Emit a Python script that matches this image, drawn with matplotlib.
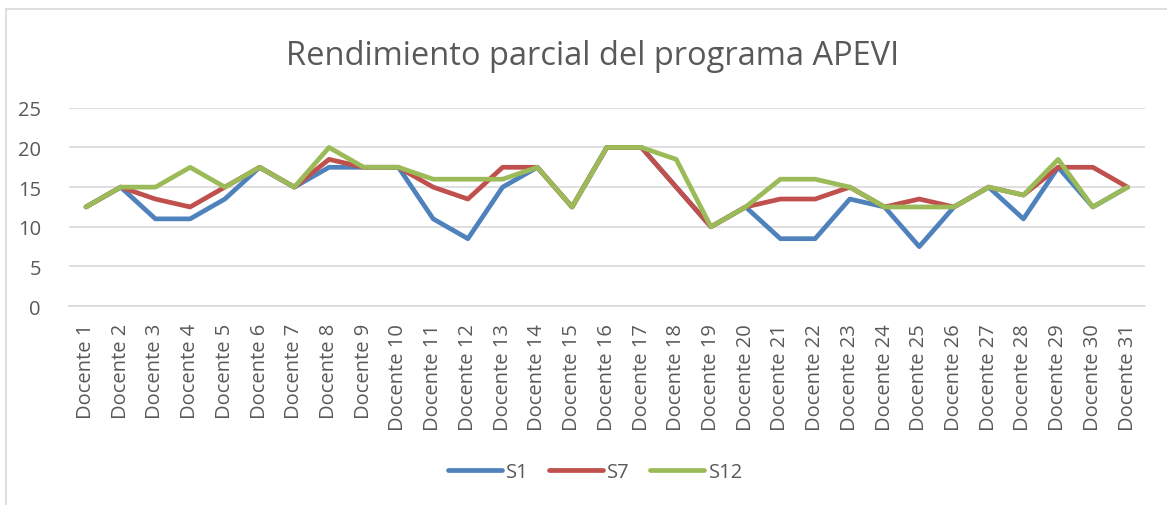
import matplotlib
matplotlib.use("Agg")
import matplotlib.pyplot as plt
from matplotlib.lines import Line2D

docentes = [f"Docente {i}" for i in range(1, 32)]
s1 = [12.5, 15, 11, 11, 13.5, 17.5, 15, 17.5, 17.5, 17.5, 11, 8.5, 15, 17.5, 12.5,
      20, 20, 15, 10, 12.5, 8.5, 8.5, 13.5, 12.5, 7.5, 12.5, 15, 11, 17.5, 12.5, 15]
s7 = [12.5, 15, 13.5, 12.5, 15, 17.5, 15, 18.5, 17.5, 17.5, 15, 13.5, 17.5, 17.5, 12.5,
      20, 20, 15, 10, 12.5, 13.5, 13.5, 15, 12.5, 13.5, 12.5, 15, 14, 17.5, 17.5, 15]
s12 = [12.5, 15, 15, 17.5, 15, 17.5, 15, 20, 17.5, 17.5, 16, 16, 16, 17.5, 12.5,
       20, 20, 18.5, 10, 12.5, 16, 16, 15, 12.5, 12.5, 12.5, 15, 14, 18.5, 12.5, 15]
series = [("S1", s1, "#4F81BD"), ("S7", s7, "#C0504D"), ("S12", s12, "#9BBB59")]

plt.rcParams["font.family"] = ["Open Sans", "DejaVu Sans"]
txt = "#595959"

fig = plt.figure(figsize=(11.67, 5.06), dpi=100)
# chart frame: only top and left edges are visible in the crop
W, H = 1167, 506
fig.add_artist(Line2D([5.5 / W, 5.5 / W], [0, 1 - 10 / H], transform=fig.transFigure,
                      color="#D9D9D9", linewidth=1.2))
fig.add_artist(Line2D([5.5 / W, 1], [1 - 10 / H, 1 - 10 / H], transform=fig.transFigure,
                      color="#D9D9D9", linewidth=1.2))

ax = fig.add_axes([0.0588, 0.393, 0.9223, 0.392])

x = range(len(docentes))
for name, vals, col in series:
    ax.plot(x, vals, color=col, linewidth=3.4, label=name, solid_capstyle="round",
            solid_joinstyle="round")

ax.set_xlim(-0.5, len(docentes) - 0.5)
ax.set_ylim(0, 25)
ax.set_yticks(range(0, 26, 5))
ax.yaxis.grid(True, color="#D9D9D9", linewidth=1.2)
ax.set_axisbelow(True)
for s in ["top", "right", "left"]:
    ax.spines[s].set_visible(False)
ax.spines["bottom"].set_color("#D9D9D9")
ax.spines["bottom"].set_linewidth(1.2)
ax.set_xticks(list(x))
ax.set_xticklabels(docentes, rotation=90, fontsize=14.5, color=txt)
ax.tick_params(axis="y", length=0, labelsize=14.5, labelcolor=txt, pad=20)
ax.tick_params(axis="x", length=0, pad=12)

fig.text(0.508, 0.888, "Rendimiento parcial del programa APEVI", ha="center", va="center",
         fontsize=23.5, color=txt)

fig.legend(loc="center", bbox_to_anchor=(0.51, 0.065), ncol=3, frameon=False,
           fontsize=14.5, labelcolor=txt, handlelength=2.7, columnspacing=1.0,
           handletextpad=0.2)

fig.savefig("out.png", dpi=100, facecolor="white")
